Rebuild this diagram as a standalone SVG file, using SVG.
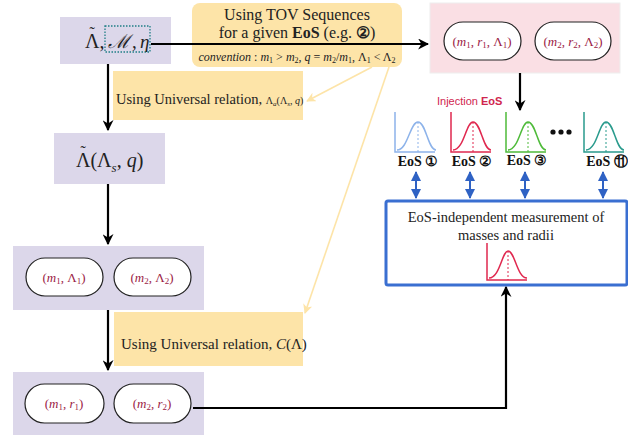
<svg xmlns="http://www.w3.org/2000/svg" width="628" height="435" viewBox="0 0 628 435">
<defs>
<style>
.pur{fill:#dcd7ea}
.yel{fill:#fde4a8}
.pill{fill:#fff;stroke:#222;stroke-width:1.2}
.ser{font-family:"Liberation Serif","DejaVu Serif",serif;fill:#222}
.pt{font-family:"Liberation Serif","DejaVu Serif",serif;fill:#9b1b45;font-size:13px;text-anchor:middle}
.it{font-style:italic}
.blk{stroke:#000;stroke-width:2.2;fill:none}
.blu{stroke:#2f62c4;stroke-width:2;fill:none}
.ylw{stroke:#fde4a8;stroke-width:1.6;fill:none}
.lbl{font-family:"Liberation Serif","DejaVu Serif",serif;font-weight:bold;font-size:14px;fill:#111;text-anchor:middle}
</style>
<marker id="ah" viewBox="0 0 10 10" refX="9" refY="5" markerWidth="5" markerHeight="5" orient="auto"><path d="M0,0 L10,5 L0,10 L3,5 z" fill="#000"/></marker>
<marker id="bh" viewBox="0 0 10 10" refX="9" refY="5" markerWidth="5" markerHeight="5" orient="auto-start-reverse"><path d="M0,0 L10,5 L0,10 z" fill="#2f62c4"/></marker>
<marker id="yh" viewBox="0 0 10 10" refX="9" refY="5" markerWidth="6" markerHeight="6" orient="auto"><path d="M0,0 L10,5 L0,10 L3,5 z" fill="#fde4a8"/></marker>
</defs>

<g id="tov-box">
<rect x="192" y="3" width="210" height="64" rx="8" class="yel"/>
<text x="297" y="20" class="ser" font-size="16" text-anchor="middle">Using TOV Sequences</text>
<text x="297" y="38" class="ser" font-size="16" text-anchor="middle">for a given <tspan font-weight="bold">EoS</tspan> (e.g. <tspan font-weight="bold">②</tspan>)</text>
<text x="297" y="61" class="ser" font-size="12" text-anchor="middle"><tspan class="it">convention</tspan> : <tspan class="it">m</tspan><tspan font-size="8" dy="2">1</tspan><tspan dy="-2"> &gt; </tspan><tspan class="it">m</tspan><tspan font-size="8" dy="2">2</tspan><tspan dy="-2">, </tspan><tspan class="it">q</tspan> = <tspan class="it">m</tspan><tspan font-size="8" dy="2">2</tspan><tspan dy="-2">/</tspan><tspan class="it">m</tspan><tspan font-size="8" dy="2">1</tspan><tspan dy="-2">, Λ</tspan><tspan font-size="8" dy="2">1</tspan><tspan dy="-2"> &lt; Λ</tspan><tspan font-size="8" dy="2">2</tspan></text>
</g>

<g id="ur1">
<rect x="113" y="71" width="190" height="49" class="yel"/>
<text x="116" y="104" class="ser" font-size="14.5">Using Universal relation, <tspan font-size="10">Λ</tspan><tspan font-size="7" class="it" dy="2">a</tspan><tspan font-size="10" dy="-2">(Λ</tspan><tspan font-size="7" class="it" dy="2">s</tspan><tspan font-size="10" dy="-2">, </tspan><tspan font-size="10" class="it">q</tspan><tspan font-size="10">)</tspan></text>
</g>

<g id="ur2">
<rect x="114" y="312" width="189" height="54" class="yel"/>
<text x="121" y="349" class="ser" font-size="15">Using Universal relation, <tspan class="it">C</tspan>(Λ)</text>
</g>

<g id="n1">
<rect x="60" y="17" width="111" height="47" class="pur"/>
<text x="85" y="48" class="ser" font-size="20">Λ<tspan font-size="16" dx="-9.9" dy="-10">˜</tspan><tspan dx="4.5" dy="10">,</tspan></text>
<rect x="105" y="26" width="45" height="26" fill="none" stroke="#1f7f86" stroke-width="1.3" stroke-dasharray="1.5,1.5"/>
<text x="108" y="48" class="ser it" font-size="19">ℳ</text>
<text x="132" y="48" class="ser" font-size="19">,</text>
<text x="140" y="48" class="ser it" font-size="19">η</text>
</g>

<g id="n2">
<rect x="54" y="133" width="111" height="51" class="pur"/>
<text x="76" y="167" class="ser" font-size="20">Λ<tspan font-size="16" dx="-9.9" dy="-10">˜</tspan><tspan dx="4.5" dy="10">(Λ</tspan><tspan font-size="13" class="it" dy="5">s</tspan><tspan dy="-5">, </tspan><tspan class="it">q</tspan>)</text>
</g>

<g id="n3">
<rect x="13" y="246" width="191" height="64" class="pur"/>
<rect x="26" y="258" width="77" height="38" rx="19" class="pill"/>
<text x="64" y="282" class="pt">(<tspan class="it">m</tspan><tspan font-size="9" dy="2">1</tspan><tspan dy="-2">, Λ</tspan><tspan font-size="9" dy="2">1</tspan><tspan dy="-2">)</tspan></text>
<rect x="114" y="258" width="77" height="38" rx="19" class="pill"/>
<text x="152" y="282" class="pt">(<tspan class="it">m</tspan><tspan font-size="9" dy="2">2</tspan><tspan dy="-2">, Λ</tspan><tspan font-size="9" dy="2">2</tspan><tspan dy="-2">)</tspan></text>
</g>

<g id="n4">
<rect x="13" y="372" width="191" height="63" class="pur"/>
<rect x="25" y="384" width="79" height="39" rx="19.5" class="pill"/>
<text x="64" y="408" class="pt">(<tspan class="it">m</tspan><tspan font-size="9" dy="2">1</tspan><tspan dy="-2">, </tspan><tspan class="it">r</tspan><tspan font-size="9" dy="2">1</tspan><tspan dy="-2">)</tspan></text>
<rect x="114" y="384" width="77" height="39" rx="19.5" class="pill"/>
<text x="152" y="408" class="pt">(<tspan class="it">m</tspan><tspan font-size="9" dy="2">2</tspan><tspan dy="-2">, </tspan><tspan class="it">r</tspan><tspan font-size="9" dy="2">2</tspan><tspan dy="-2">)</tspan></text>
</g>

<g id="n5">
<rect x="430" y="3" width="190" height="70" fill="#fadfe4" stroke="#eee" stroke-width="1"/>
<rect x="444" y="22" width="77" height="38" rx="19" class="pill"/>
<text x="482" y="46" class="pt">(<tspan class="it">m</tspan><tspan font-size="9" dy="2">1</tspan><tspan dy="-2">, </tspan><tspan class="it">r</tspan><tspan font-size="9" dy="2">1</tspan><tspan dy="-2">, Λ</tspan><tspan font-size="9" dy="2">1</tspan><tspan dy="-2">)</tspan></text>
<rect x="535" y="22" width="76" height="38" rx="19" class="pill"/>
<text x="573" y="46" class="pt">(<tspan class="it">m</tspan><tspan font-size="9" dy="2">2</tspan><tspan dy="-2">, </tspan><tspan class="it">r</tspan><tspan font-size="9" dy="2">2</tspan><tspan dy="-2">, Λ</tspan><tspan font-size="9" dy="2">2</tspan><tspan dy="-2">)</tspan></text>
</g>

<g id="eos">
<text x="437" y="105" font-family="Liberation Sans,Arial,sans-serif" font-size="11" fill="#d0264e">Injection <tspan font-weight="bold">EoS</tspan></text>
<g fill="none" stroke-width="1.5">
<g stroke="#8db3ea"><path d="M395,112 V152 H435"/><path d="M397,150 C408,150 410,122 418,122 C426,122 428,150 436,150"/><path d="M418,122 V152" stroke-dasharray="2,2" stroke-width="1"/></g>
<g stroke="#e0284f"><path d="M451,112 V152 H491"/><path d="M453,150 C464,150 466,122 473,122 C481,122 483,150 491,150"/><path d="M473,122 V152" stroke-dasharray="2,2" stroke-width="1"/></g>
<g stroke="#4fbb3a"><path d="M506,112 V152 H546"/><path d="M508,150 C519,150 521,122 528,122 C536,122 538,150 546,150"/><path d="M528,122 V152" stroke-dasharray="2,2" stroke-width="1"/></g>
<g stroke="#2a9b8d"><path d="M584,112 V152 H624"/><path d="M586,150 C597,150 599,122 606,122 C614,122 616,150 624,150"/><path d="M606,122 V152" stroke-dasharray="2,2" stroke-width="1"/></g>
</g>
<circle cx="553" cy="132" r="2.6" fill="#111"/><circle cx="561" cy="132" r="2.6" fill="#111"/><circle cx="569" cy="132" r="2.6" fill="#111"/>
<text x="418" y="166" class="lbl">EoS ①</text>
<text x="472" y="166" class="lbl">EoS ②</text>
<text x="527" y="165" class="lbl">EoS ③</text>
<text x="607" y="166" class="lbl">EoS ⑪</text>
</g>

<g id="meas">
<rect x="386" y="201" width="241" height="84" rx="2" fill="#fff" stroke="#3a6fd1" stroke-width="3"/>
<text x="506" y="222" class="ser" font-size="14.5" text-anchor="middle">EoS-independent measurement of</text>
<text x="506" y="240" class="ser" font-size="14.5" text-anchor="middle">masses and radii</text>
<g fill="none" stroke="#e0284f" stroke-width="1.5"><path d="M487,243 V280 H527"/><path d="M489,278 C500,278 502,251 508,251 C515,251 517,278 527,278"/><path d="M508,251 V280" stroke-dasharray="2,2" stroke-width="1"/></g>
</g>

<g id="connectors">
<path d="M151,44 H428" class="blk" marker-end="url(#ah)"/>
<path d="M520,73 V110" class="blk" marker-end="url(#ah)"/>
<path d="M108,64 V130" class="blk" marker-end="url(#ah)"/>
<path d="M108,184 V244" class="blk" marker-end="url(#ah)"/>
<path d="M108,310 V370" class="blk" marker-end="url(#ah)"/>
<path d="M193,408 H506 V287" class="blk" marker-end="url(#ah)"/>
<path d="M372,67 L307,101" class="ylw" marker-end="url(#yh)"/>
<path d="M389,67 L305,313" class="ylw" marker-end="url(#yh)"/>
<path d="M416,172 V198" class="blu" marker-start="url(#bh)" marker-end="url(#bh)"/>
<path d="M470,172 V198" class="blu" marker-start="url(#bh)" marker-end="url(#bh)"/>
<path d="M525,172 V198" class="blu" marker-start="url(#bh)" marker-end="url(#bh)"/>
<path d="M603,172 V198" class="blu" marker-start="url(#bh)" marker-end="url(#bh)"/>
</g>
</svg>
